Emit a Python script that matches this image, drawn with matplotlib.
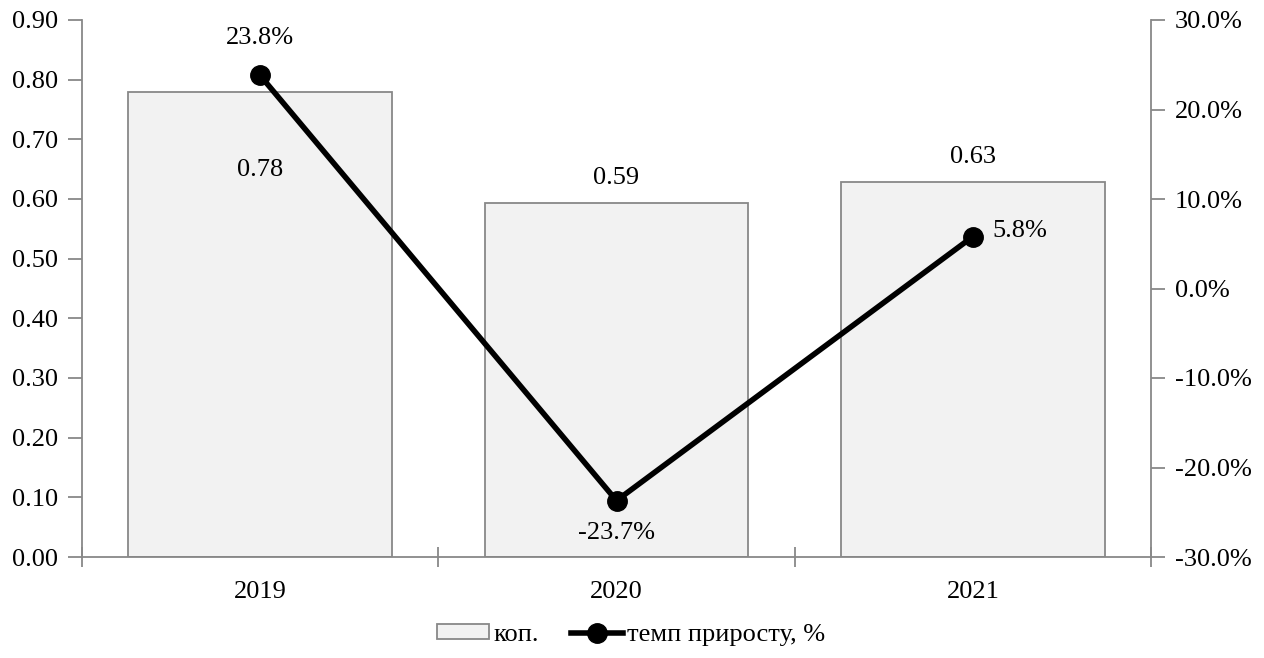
import matplotlib.pyplot as plt
from matplotlib.ticker import FuncFormatter, MultipleLocator

plt.rcParams['font.family'] = ['Liberation Serif', 'DejaVu Serif']
plt.rcParams['font.size'] = 19

# дані
years = ['2019', '2020', '2021']
kop = [0.779, 0.593, 0.628]
growth = [23.8, -23.7, 5.8]

grey = '#888888'

fig = plt.figure(figsize=(12.64, 6.58), dpi=100)
ax = fig.add_axes([82 / 1264, 1 - 557 / 658, (1151 - 82) / 1264, (557 - 20) / 658])
ax2 = ax.twinx()

x = list(range(len(years)))
ax.bar(x, kop, width=0.74, color='#f2f2f2', edgecolor=grey, linewidth=1.3,
       label='коп.', zorder=2)
ax.set_xlim(-0.5, len(years) - 0.5)
ax.set_ylim(0, 0.9)
ax.yaxis.set_major_locator(MultipleLocator(0.1))
ax.yaxis.set_major_formatter(FuncFormatter(lambda v, p: f'{v:.2f}'))
ax.set_xticks(x)
ax.set_xticklabels(years)
ax.tick_params(axis='x', length=0, pad=17)
ax.set_xticks([i - 0.5 for i in range(len(years) + 1)], minor=True)
ax.tick_params(axis='x', which='minor', direction='inout', length=14, color=grey, width=1.3)
ax.tick_params(axis='y', direction='out', length=10, color=grey, width=1.3, pad=7)

ln, = ax2.plot(x, growth, color='black', linewidth=4, marker='o', markersize=14,
               label='темп приросту, %', zorder=3)
ax2.set_ylim(-30, 30)
ax2.yaxis.set_major_locator(MultipleLocator(10))
ax2.yaxis.set_major_formatter(FuncFormatter(lambda v, p: f'{v:.1f}%'))
ax2.tick_params(axis='y', direction='out', length=10, color=grey, width=1.3, pad=7)

for a in (ax, ax2):
    a.spines['top'].set_visible(False)
    for s in ('left', 'right', 'bottom'):
        a.spines[s].set_color(grey)
        a.spines[s].set_linewidth(1.3)
ax2.spines['left'].set_visible(False)
ax2.spines['bottom'].set_visible(False)
ax.spines['right'].set_visible(False)

# підписи стовпців
ax.text(x[0], kop[0] - 0.13, f'{kop[0]:.2f}', ha='center', va='center')
for i in (1, 2):
    ax.text(x[i], kop[i] + 0.042, f'{kop[i]:.2f}', ha='center', va='center')

# підписи лінії
ax2.annotate(f'{growth[0]:.1f}%', (x[0], growth[0]), xytext=(0, 27),
             textcoords='offset points', ha='center', va='center')
ax2.annotate(f'{growth[1]:.1f}%', (x[1], growth[1]), xytext=(0, -23),
             textcoords='offset points', ha='center', va='center')
ax2.annotate(f'{growth[2]:.1f}%', (x[2], growth[2]), xytext=(14, 4),
             textcoords='offset points', ha='left', va='center')

handles = [ax.patches[0], ln]
fig.legend(handles, ['коп.', 'темп приросту, %'], loc='center',
           bbox_to_anchor=(631 / 1264, 1 - 635 / 658), ncol=2, frameon=False,
           handlelength=2.0, handleheight=0.5, handletextpad=0.15,
           columnspacing=1.2, fontsize=19)

fig.savefig('out.png', dpi=100)
